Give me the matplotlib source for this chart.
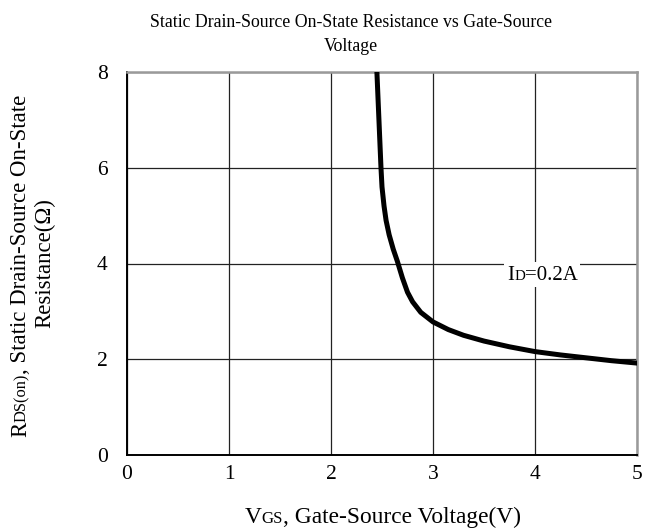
import matplotlib
matplotlib.use('Agg')
import matplotlib.pyplot as plt
from matplotlib.transforms import IdentityTransform
from matplotlib.patches import Rectangle

# ---- data ----
vgs = [2.45, 2.46, 2.47, 2.48, 2.49, 2.50, 2.52, 2.54, 2.57, 2.61, 2.65, 2.70, 2.75,
       2.80, 2.88, 3.00, 3.15, 3.30, 3.50, 3.75, 4.00, 4.25, 4.50, 4.75, 5.00]
rds = [8.0, 7.5, 7.0, 6.5, 6.0, 5.6, 5.2, 4.9, 4.6, 4.3, 4.05, 3.7, 3.4,
       3.2, 2.98, 2.78, 2.62, 2.5, 2.38, 2.26, 2.16, 2.09, 2.03, 1.97, 1.92]
x_ticks = [0, 1, 2, 3, 4, 5]
y_ticks = [0, 2, 4, 6, 8]
title_lines = ["Static Drain-Source On-State Resistance vs Gate-Source", "Voltage"]
curve_label = [("I", 1.0), ("D", 0.72), ("=0.2A", 1.0)]
xlabel_pieces = [("V", 1.0), ("GS", 0.72), (", Gate-Source Voltage(V)", 1.0)]
ylabel_line1 = [("R", 1.0), ("DS(on)", 0.72), (", Static Drain-Source On-State", 1.0)]
ylabel_line2 = [("Resistance(\u03a9)", 1.0)]

FONT = 'Liberation Serif'
W, H = 645, 532

fig = plt.figure(figsize=(W / 100, H / 100), dpi=100)
ax = fig.add_axes([127 / W, 1 - 455 / H, (637 - 127) / W, (455 - 72) / H])
ax.plot(vgs, rds, color='black', lw=3.6, solid_joinstyle='round', zorder=3)
ax.set_xlim(0, 5)
ax.set_ylim(0, 8)
ax.set_xticks(x_ticks)
ax.set_yticks(y_ticks)
ax.grid(True, color='#222222', lw=0.9, zorder=1)
ax.set_axisbelow(True)
ax.tick_params(length=0, labelsize=15.5)
ax.tick_params(axis='y', pad=14)
ax.tick_params(axis='x', pad=7)
for lab in ax.get_xticklabels() + ax.get_yticklabels():
    lab.set_fontfamily(FONT)
ax.spines['top'].set_color('#9a9a9a')
ax.spines['right'].set_color('#9a9a9a')
ax.spines['top'].set_linewidth(1.8)
ax.spines['right'].set_linewidth(1.8)
ax.spines['left'].set_linewidth(1.4)
ax.spines['bottom'].set_linewidth(1.4)

fig.canvas.draw()
renderer = fig.canvas.get_renderer()


def rich(pieces, x, y, size, rotation=0, center=True, zorder=5):
    """Place text pieces of different sizes along a common baseline (display px)."""
    texts = []
    lengths = []
    for s, scale in pieces:
        t = fig.text(0, 0, s, fontsize=size * scale, family=FONT, color='black',
                     ha='left', va='baseline', rotation=rotation,
                     rotation_mode='anchor', transform=IdentityTransform(),
                     zorder=zorder)
        bb = t.get_window_extent(renderer)
        lengths.append(bb.height if rotation == 90 else bb.width)
        texts.append(t)
    total = sum(lengths)
    pos = -total / 2 if center else 0
    for t, L in zip(texts, lengths):
        if rotation == 90:
            t.set_position((x, y + pos))
        else:
            t.set_position((x + pos, y))
        pos += L
    return texts


# title
fig.text(351 / W, 1 - 27 / H, title_lines[0], ha='center', va='baseline',
         fontsize=12.8, family=FONT)
fig.text(351 / W, 1 - 51 / H, title_lines[1], ha='center', va='baseline',
         fontsize=12.8, family=FONT)

# x label
rich(xlabel_pieces, 383, H - 523, 16.8)

# y label (rotated)
rich(ylabel_line1, 26, H - 266, 16.5, rotation=90)
rich(ylabel_line2, 50, H - 263, 16.5, rotation=90)

# curve label with white background
lab_x, lab_y = ax.transData.transform((3.73, 3.66))
texts = rich(curve_label, lab_x, lab_y, 15, center=False)
fig.canvas.draw()
bbs = [t.get_window_extent(renderer) for t in texts]
x0 = min(b.x0 for b in bbs) - 3
x1 = max(b.x1 for b in bbs) + 2
y0 = min(b.y0 for b in bbs) - 2
y1 = max(b.y1 for b in bbs) + 4
fig.patches.append(Rectangle((x0, y0), x1 - x0, y1 - y0, facecolor='white',
                             edgecolor='none', transform=IdentityTransform(),
                             zorder=4))

fig.savefig('out.png', dpi=100)
